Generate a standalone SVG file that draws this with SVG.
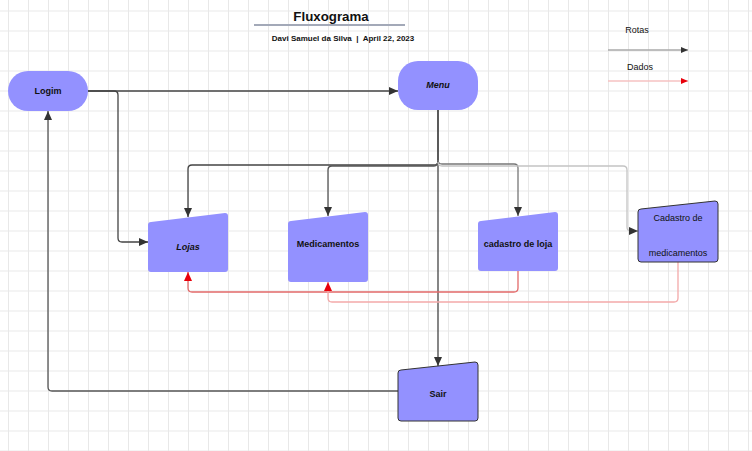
<svg xmlns="http://www.w3.org/2000/svg" width="752" height="451" viewBox="0 0 752 451">
<defs>
  <pattern id="gmin" x="8" y="10.5" width="20" height="20" patternUnits="userSpaceOnUse">
    <path d="M0.5 0 V20 M0 0.5 H20" fill="none" stroke="#e8e8e8" stroke-width="1"/>
  </pattern>
  <marker id="ad" markerWidth="10" markerHeight="8" refX="9" refY="4" orient="auto" markerUnits="userSpaceOnUse">
    <path d="M0 0 L9 4 L0 8 Z" fill="#333"/>
  </marker>
  <marker id="ar" markerWidth="10" markerHeight="8" refX="9" refY="4" orient="auto" markerUnits="userSpaceOnUse">
    <path d="M0 0 L9 4 L0 8 Z" fill="#e8000b"/>
  </marker>
  <marker id="ads" markerWidth="8" markerHeight="6" refX="7" refY="3" orient="auto" markerUnits="userSpaceOnUse">
    <path d="M0 0 L7 3 L0 6 Z" fill="#333"/>
  </marker>
  <marker id="ars" markerWidth="8" markerHeight="6" refX="7" refY="3" orient="auto" markerUnits="userSpaceOnUse">
    <path d="M0 0 L7 3 L0 6 Z" fill="#e8000b"/>
  </marker>
</defs>
<style>
  .t{font-family:"Liberation Sans",Arial,sans-serif;fill:#111;text-anchor:middle}
  .b{font-weight:bold;font-size:9px}
  .bi{font-weight:bold;font-style:italic;font-size:9px}
  .n{fill:#9391ff}
  .nb{fill:#9391ff;stroke:#333;stroke-width:1}
  .c{fill:none;stroke-width:1.3}
</style>
<rect width="752" height="451" fill="#ffffff"/>
<rect width="752" height="451" fill="url(#gmin)"/>

<g id="title">
  <text class="t" x="331" y="21" font-size="13.3" font-weight="bold">Fluxograma</text>
  <rect x="254" y="24" width="151" height="2" fill="#a3a9b8"/>
  <text class="t" x="343" y="41" font-size="8" font-weight="bold" xml:space="preserve">Davi Samuel da Silva  |  April 22, 2023</text>
</g>

<g id="legend">
  <text class="t" x="637" y="33" font-size="9">Rotas</text>
  <path d="M608 50 H688" class="c" stroke="#aaa" marker-end="url(#ads)"/>
  <text class="t" x="640" y="70" font-size="9">Dados</text>
  <path d="M608 81 H688" class="c" stroke="#f6c2c2" marker-end="url(#ars)"/>
</g>

<g id="connectors">
  <path class="c" stroke="#444" d="M88 91 H398" marker-end="url(#ad)"/>
  <path class="c" stroke="#444" d="M88 91 H114 Q118 91 118 95 V238 Q118 242 122 242 H148" marker-end="url(#ad)"/>
  <path class="c" stroke="#444" d="M438 110 V366" marker-end="url(#ad)"/>
  <path class="c" stroke="#444" d="M438 110 V161 Q438 165 434 165 H192 Q188 165 188 169 V217" marker-end="url(#ad)"/>
  <path class="c" stroke="#555" d="M438 161 Q438 166 434 166 H332 Q328 166 328 170 V216" marker-end="url(#ad)"/>
  <path class="c" stroke="#777" d="M438 160 Q438 164 442 164 H514 Q518 164 518 168 V216" marker-end="url(#ad)"/>
  <path class="c" stroke="#c4c4c4" d="M438 162 Q438 166 442 166 H623 Q627 166 627 170 V227 Q627 231 631 231 H638" marker-end="url(#ad)"/>
  <path class="c" stroke="#555" d="M398 391 H52 Q48 391 48 387 V111" marker-end="url(#ad)"/>
  <path class="c" stroke="#e26a6a" d="M518 271 V288 Q518 292 514 292 H192 Q188 292 188 288 V272" marker-end="url(#ar)"/>
  <path class="c" stroke="#f3a9a9" d="M678 262 V298 Q678 302 674 302 H332 Q328 302 328 298 V282" marker-end="url(#ar)"/>
</g>

<g id="logim">
  <rect class="n" x="8" y="71" width="80" height="40" rx="20"/>
  <text class="t b" x="48" y="94">Logim</text>
</g>
<g id="menu">
  <rect class="n" x="398" y="61" width="80" height="49" rx="20"/>
  <text class="t bi" x="438" y="88">Menu</text>
</g>
<g id="lojas">
  <path class="n" d="M148 225 Q148 222 151 222 L225 213 Q228 213 228 216 V269 Q228 272 225 272 H151 Q148 272 148 269 Z"/>
  <text class="t bi" x="188" y="250">Lojas</text>
</g>
<g id="medicamentos">
  <path class="n" d="M288 224 Q288 221 291 221 L365 212 Q368 212 368 215 V279 Q368 282 365 282 H291 Q288 282 288 279 Z"/>
  <text class="t b" x="328" y="247">Medicamentos</text>
</g>
<g id="cadastro-loja">
  <path class="n" d="M478 224 Q478 221 481 221 L555 212 Q558 212 558 215 V268 Q558 271 555 271 H481 Q478 271 478 268 Z"/>
  <text class="t b" x="518" y="247">cadastro de loja</text>
</g>
<g id="cadastro-medicamentos">
  <path class="nb" d="M638 212 Q638 209 641 209 L715 201 Q718 201 718 204 V259 Q718 262 715 262 H641 Q638 262 638 259 Z"/>
  <text class="t" x="678" y="221" font-size="9">Cadastro de</text>
  <text class="t" x="678" y="256" font-size="9">medicamentos</text>
</g>
<g id="sair">
  <path class="nb" d="M398 373 Q398 370 401 370 L475 362 Q478 362 478 365 V418 Q478 421 475 421 H401 Q398 421 398 418 Z"/>
  <text class="t b" x="438" y="397">Sair</text>
</g>
</svg>
